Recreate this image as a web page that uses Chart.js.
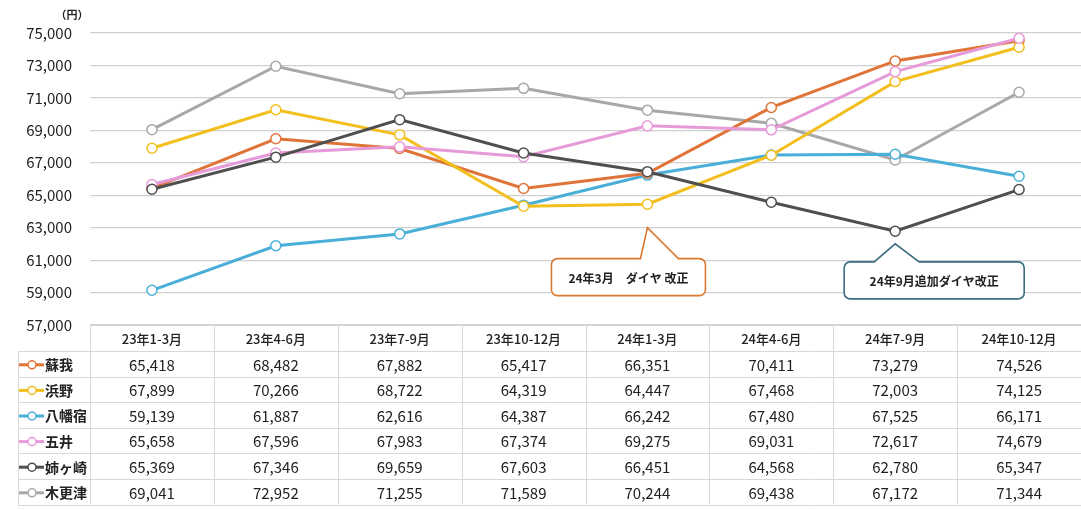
<!DOCTYPE html>
<html>
<head>
<meta charset="utf-8">
<script src="https://cdn.jsdelivr.net/npm/chart.js@4"></script>
<style>
html,body{margin:0;padding:0;background:#fff;}
#wrap{width:1081px;height:510px;position:relative;}
</style>
</head>
<body>
<div id="wrap"><canvas id="trendChart" width="1081" height="510"></canvas></div>
<script>
const categories = ["23年1-3月","23年4-6月","23年7-9月","23年10-12月","24年1-3月","24年4-6月","24年7-9月","24年10-12月"];

const soga      = [65418, 68482, 67882, 65417, 66351, 70411, 73279, 74526];
const hamano    = [67899, 70266, 68722, 64319, 64447, 67468, 72003, 74125];
const yawatajuku= [59139, 61887, 62616, 64387, 66242, 67480, 67525, 66171];
const goi       = [65658, 67596, 67983, 67374, 69275, 69031, 72617, 74679];
const anegasaki = [65369, 67346, 69659, 67603, 66451, 64568, 62780, 65347];
const kisarazu  = [69041, 72952, 71255, 71589, 70244, 69438, 67172, 71344];

const seriesNames = ["蘇我","浜野","八幡宿","五井","姉ヶ崎","木更津"];
const seriesColors = ["#E07438","#F2BF1E","#4AAFD8","#E79AD9","#4F4F4F","#A8A8A8"];

const yMin = 57000, yMax = 75000, yStep = 2000;

const notes = [
    {text:"24年3月　ダイヤ 改正", at:4, value:63000, color:"#D9782F"},
    {text:"24年9月追加ダイヤ改正", at:6, value:62000, color:"#3B6E80"}
];

const FONT = "'Noto Sans CJK JP','Noto Sans',sans-serif";

// table + callouts drawn after chart
const tablePlugin = {
    id:"dataTable",
    afterDraw(chart){
        const ctx = chart.ctx;
        const xs = chart.scales.x;
        const ys = chart.scales.y;
        const area = chart.chartArea;
        const colW = (area.right - area.left) / categories.length;
        const top = area.bottom;
        const headH = 26;
        const rowH = 25.6;
        const tableLeft = 18;

        ctx.save();
        ctx.strokeStyle = "#d8d8d8";
        ctx.lineWidth = 1;

        // header
        ctx.beginPath();
        ctx.moveTo(area.left, top + 0.5);
        ctx.lineTo(area.right, top + 0.5);
        const bottom = top + headH + rowH * seriesNames.length;
        for(let r = 0; r <= seriesNames.length; r++){
            const y = Math.round(top + headH + rowH * r) + 0.5;
            ctx.moveTo(tableLeft, y);
            ctx.lineTo(area.right, y);
        }
        ctx.moveTo(tableLeft + 0.5, top + headH);
        ctx.lineTo(tableLeft + 0.5, bottom);
        for(let c = 0; c <= categories.length; c++){
            const x = Math.round(area.left + colW * c) + 0.5;
            ctx.moveTo(x, top);
            ctx.lineTo(x, bottom);
        }
        ctx.stroke();

        ctx.fillStyle = "#222";
        ctx.textAlign = "center";
        ctx.textBaseline = "middle";
        ctx.font = "500 13px " + FONT;
        categories.forEach((c,i)=>{
            ctx.fillText(c, xs.getPixelForValue(i), top + headH / 2 + 1);
        });

        chart.data.datasets.forEach((ds,r)=>{
            const cy = top + headH + rowH * r + rowH / 2 + 1;
            // legend key
            ctx.strokeStyle = ds.borderColor;
            ctx.lineWidth = 3;
            ctx.beginPath();
            ctx.moveTo(19, cy);
            ctx.lineTo(44, cy);
            ctx.stroke();
            ctx.fillStyle = "#fff";
            ctx.lineWidth = 1.5;
            ctx.beginPath();
            ctx.arc(32, cy, 4, 0, Math.PI * 2);
            ctx.fill();
            ctx.stroke();

            ctx.fillStyle = "#222";
            ctx.textAlign = "left";
            ctx.font = "bold 14px " + FONT;
            ctx.fillText(ds.label, 45, cy);

            ctx.textAlign = "center";
            ctx.font = "15px " + FONT;
            ds.data.forEach((v,i)=>{
                ctx.fillText(v.toLocaleString("en-US"), xs.getPixelForValue(i), cy);
            });
        });

        // unit label
        ctx.font = "bold 11px " + FONT;
        ctx.textAlign = "center";
        ctx.fillStyle = "#222";
        ctx.fillText("（円）", 72, 15);

        // callouts
        notes.forEach(n=>{
            const tipX = xs.getPixelForValue(n.at);
            const tipY = ys.getPixelForValue(n.value);
            let bx, bw, by, bh = 37, b1, b2;
            if(n.at === 4){
                bx = tipX - 96; bw = 154; by = tipY + 31; b1 = tipX - 7; b2 = tipX + 31;
            } else {
                bx = tipX - 51; bw = 180; by = tipY + 18; b1 = tipX - 21; b2 = tipX + 24;
            }
            const rad = 6;
            ctx.strokeStyle = n.color;
            ctx.lineWidth = 1.6;
            ctx.fillStyle = "#fff";
            ctx.beginPath();
            ctx.moveTo(bx + rad, by);
            ctx.lineTo(b1, by);
            ctx.lineTo(tipX, tipY);
            ctx.lineTo(b2, by);
            ctx.lineTo(bx + bw - rad, by);
            ctx.arcTo(bx + bw, by, bx + bw, by + rad, rad);
            ctx.lineTo(bx + bw, by + bh - rad);
            ctx.arcTo(bx + bw, by + bh, bx + bw - rad, by + bh, rad);
            ctx.lineTo(bx + rad, by + bh);
            ctx.arcTo(bx, by + bh, bx, by + bh - rad, rad);
            ctx.lineTo(bx, by + rad);
            ctx.arcTo(bx, by, bx + rad, by, rad);
            ctx.closePath();
            ctx.fill();
            ctx.stroke();
            ctx.fillStyle = "#222";
            ctx.font = "bold 12px " + FONT;
            ctx.textAlign = "center";
            ctx.fillText(n.text, bx + bw / 2, by + bh / 2 + 1);
        });

        ctx.restore();
    }
};

const allSeries = [soga, hamano, yawatajuku, goi, anegasaki, kisarazu];

const datasets = allSeries.map((vals,i)=>({
    label: seriesNames[i],
    data: vals,
    borderColor: seriesColors[i],
    backgroundColor: "#fff",
    pointBackgroundColor: "#fff",
    pointBorderColor: seriesColors[i],
    pointBorderWidth: 1.5,
    pointRadius: 5,
    borderWidth: 3,
    tension: 0
}));

// draw order: grey lines behind
datasets.forEach((d,i)=>{ d.order = [3,2,4,1,0,5][i]; });

const ctx = document.getElementById("trendChart").getContext("2d");

new Chart(ctx,{
    type:"line",
    data:{ labels: categories, datasets },
    options:{
        responsive:false,
        animation:false,
        layout:{ autoPadding:false, padding:{ top:33, right:0, bottom:185, left:0 } },
        plugins:{ legend:{display:false}, tooltip:{enabled:false} },
        scales:{
            x:{
                display:false,
                offset:true
            },
            y:{
                min:yMin,
                max:yMax,
                afterFit(scale){ scale.width = 90; },
                ticks:{
                    stepSize:yStep,
                    padding:18,
                    color:"#222",
                    font:{ family:FONT, size:15 },
                    callback:v=>v.toLocaleString("en-US")
                },
                grid:{ color:"#d0d0d0", lineWidth:1.2, drawTicks:false },
                border:{ display:false }
            }
        }
    },
    plugins:[tablePlugin]
});
</script>
</body>
</html>
